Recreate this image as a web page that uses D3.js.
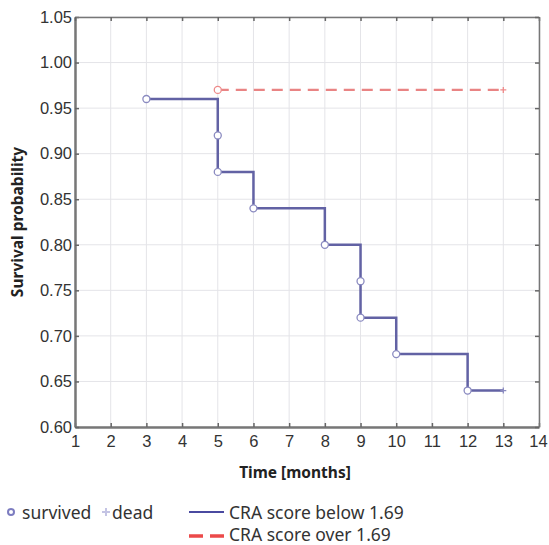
<!DOCTYPE html>
<html>
<head>
<meta charset="utf-8">
<script src="https://cdn.jsdelivr.net/npm/d3@7"></script>
<style>
  body { margin: 0; background: #fff; }
  svg { font-family: "Noto Sans", "Open Sans", sans-serif; }
</style>
</head>
<body>
<div id="chart"></div>
<script>
// step curve for the "below 1.69" group
const belowTimes = [3, 5, 6, 8, 9, 10, 12, 13];
const belowSurv = [0.96, 0.88, 0.84, 0.80, 0.72, 0.68, 0.64, 0.64];
// censor markers (circles) on that curve
const belowMarkTimes = [3, 5, 5, 6, 8, 9, 9, 10, 12];
const belowMarkSurv = [0.96, 0.92, 0.88, 0.84, 0.80, 0.76, 0.72, 0.68, 0.64];
const belowDead = [[13, 0.64]];

// "over 1.69" group
const overTimes = [5, 13];
const overSurv = [0.97, 0.97];
const overMarkTimes = [5];
const overMarkSurv = [0.97];
const overDead = [[13, 0.97]];

const xTicks = d3.range(1, 15);
const yTicks = [0.60, 0.65, 0.70, 0.75, 0.80, 0.85, 0.90, 0.95, 1.00, 1.05];

const W = 549, H = 545;
const margin = { top: 17, right: 10, bottom: 118, left: 75 };
const width = W - margin.left - margin.right;
const height = H - margin.top - margin.bottom;

const svg = d3.select('#chart').append('svg')
  .attr('width', W)
  .attr('height', H);

const g = svg.append('g')
  .attr('transform', `translate(${margin.left},${margin.top})`);

const x = d3.scaleLinear().domain([1, 14]).range([0, width]);
const y = d3.scaleLinear().domain([0.60, 1.05]).range([height, 0]);

// grid
g.append('g').selectAll('line')
  .data(xTicks)
  .enter().append('line')
  .attr('x1', d => x(d)).attr('x2', d => x(d))
  .attr('y1', 0).attr('y2', height)
  .attr('stroke', '#e4e4e8');
g.append('g').selectAll('line')
  .data(yTicks)
  .enter().append('line')
  .attr('x1', 0).attr('x2', width)
  .attr('y1', d => y(d)).attr('y2', d => y(d))
  .attr('stroke', '#e4e4e8');

// axes (ticks point inward)
const tickStyle = sel => {
  sel.select('.domain').attr('stroke', '#777').attr('stroke-width', 1.5);
  sel.selectAll('.tick line').attr('stroke', '#666').attr('stroke-width', 1.5);
  sel.selectAll('text').attr('fill', '#333').style('font-size', '16.5px');
};

g.append('g')
  .attr('transform', `translate(0,${height})`)
  .call(d3.axisBottom(x).tickValues(xTicks).tickSizeInner(-4).tickSizeOuter(0).tickPadding(8))
  .call(tickStyle)
  .call(a => a.select('.domain').attr('stroke-width', 2.5))
  .call(a => a.selectAll('.tick text').filter(d => d === 14).attr('dx', '-1px'));

g.append('g')
  .call(d3.axisLeft(y).tickValues(yTicks).tickFormat(d3.format('.2f')).tickSizeInner(-4).tickSizeOuter(0).tickPadding(3))
  .call(tickStyle)
  .call(a => a.select('.domain').attr('stroke-width', 2.5));

g.append('g')
  .call(d3.axisTop(x).tickValues(xTicks).tickSizeInner(-4).tickSizeOuter(0).tickFormat(''))
  .call(tickStyle);

g.append('g')
  .attr('transform', `translate(${width},0)`)
  .call(d3.axisRight(y).tickValues(yTicks).tickSizeInner(-4).tickSizeOuter(0).tickFormat(''))
  .call(tickStyle);

// curves
const line = d3.line()
  .x(d => x(d[0]))
  .y(d => y(d[1]))
  .curve(d3.curveStepAfter);

const belowPts = belowTimes.map((t, i) => [t, belowSurv[i]]);
const overPts = overTimes.map((t, i) => [t, overSurv[i]]);

g.append('path')
  .datum(overPts)
  .attr('d', line)
  .attr('fill', 'none')
  .attr('stroke', '#e98484')
  .attr('stroke-width', 2.2)
  .attr('stroke-dasharray', '11,7');

g.append('path')
  .datum(belowPts)
  .attr('d', line)
  .attr('fill', 'none')
  .attr('stroke', '#6262a4')
  .attr('stroke-width', 2.5);

// survived markers
const circles = (ts, vs, color) => {
  g.append('g').selectAll('circle')
    .data(ts.map((t, i) => [t, vs[i]]))
    .enter().append('circle')
    .attr('cx', d => x(d[0]))
    .attr('cy', d => y(d[1]))
    .attr('r', 3.5)
    .attr('fill', '#fff')
    .attr('stroke', color)
    .attr('stroke-width', 1.3);
};
circles(overMarkTimes, overMarkSurv, '#ee8a8a');
circles(belowMarkTimes, belowMarkSurv, '#8a8ac0');

// dead markers
const plus = (pts, color) => {
  g.append('g').selectAll('path')
    .data(pts)
    .enter().append('path')
    .attr('d', d => `M${x(d[0]) - 3},${y(d[1])}h6M${x(d[0])},${y(d[1]) - 3}v6`)
    .attr('stroke', color)
    .attr('stroke-width', 1.3);
};
plus(overDead, '#ee8a8a');
plus(belowDead, '#8a8ac0');

// axis titles
svg.append('text')
  .attr('transform', `translate(23,${margin.top + height / 2}) rotate(-90)`)
  .attr('text-anchor', 'middle')
  .style('font-size', '15.5px')
  .style('font-weight', 'bold')
  .attr('fill', '#222')
  .text('Survival probability');

svg.append('text')
  .attr('x', 295)
  .attr('y', 478)
  .attr('text-anchor', 'middle')
  .style('font-size', '15.5px')
  .style('font-weight', 'bold')
  .attr('fill', '#222')
  .text('Time [months]');

// legend
const leg = svg.append('g').style('font-size', '17.5px').attr('fill', '#333');
leg.append('circle').attr('cx', 11).attr('cy', 512).attr('r', 3)
  .attr('fill', '#fff').attr('stroke', '#7c7cc0').attr('stroke-width', 2);
leg.append('text').attr('x', 22).attr('y', 519).text('survived');
leg.append('path').attr('d', 'M102,512h8M106,508v8')
  .attr('stroke', '#c4c4e4').attr('stroke-width', 2);
leg.append('text').attr('x', 112).attr('y', 519).text('dead');

leg.append('line').attr('x1', 189).attr('x2', 224).attr('y1', 512).attr('y2', 512)
  .attr('stroke', '#4a4aa0').attr('stroke-width', 2);
leg.append('text').attr('x', 229).attr('y', 519).text('CRA score below 1.69');
leg.append('line').attr('x1', 189).attr('x2', 224).attr('y1', 536).attr('y2', 536)
  .attr('stroke', '#ec4a4a').attr('stroke-width', 3.5)
  .attr('stroke-dasharray', '14,7');
leg.append('text').attr('x', 229).attr('y', 541).text('CRA score over 1.69');
</script>
</body>
</html>
